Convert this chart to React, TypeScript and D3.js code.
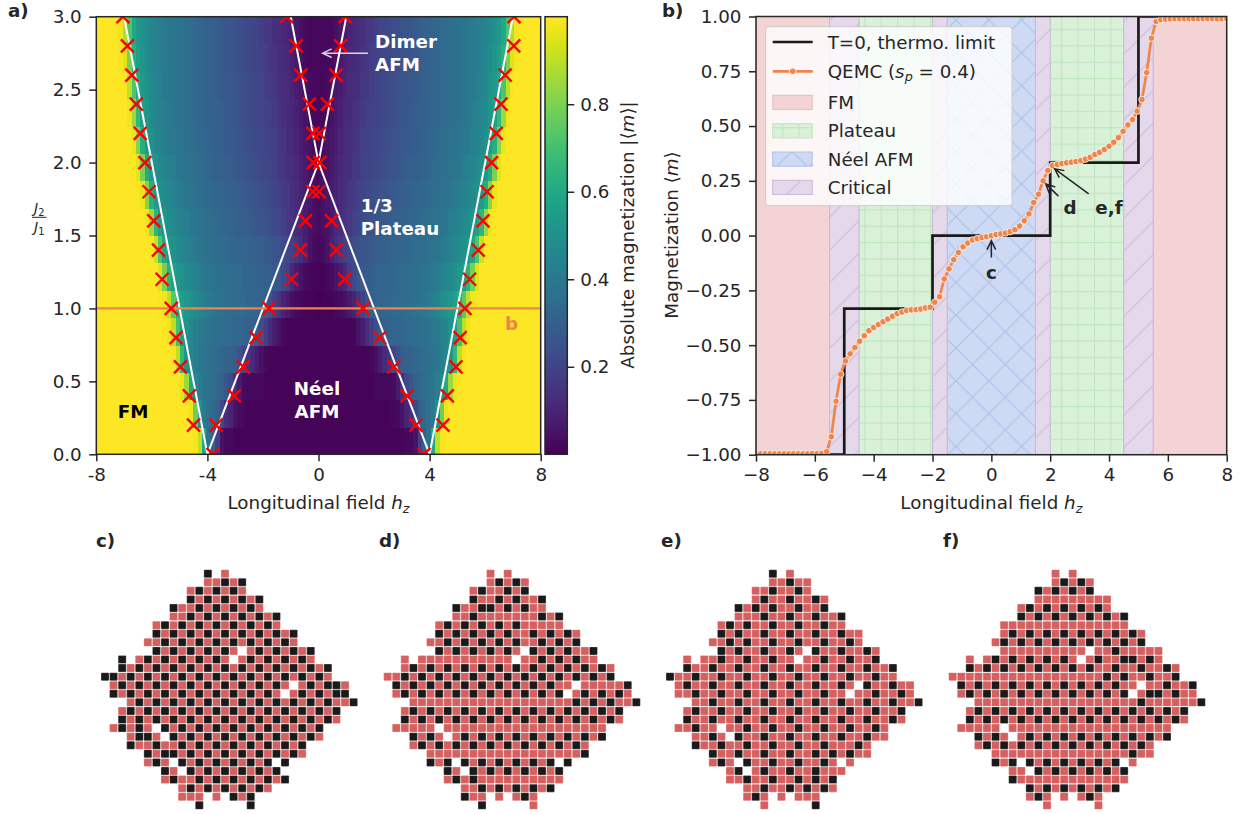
import { useEffect, useRef } from "react";
import * as d3 from "d3";

const FONT = "DejaVu Sans, sans-serif";
const INK = "#262626";
const ORANGE = "#ee854a";

// panel a: J2/J1 rows, |m| in percent for h = 0, 0.16, ... 8 (mirrored for h < 0)
const heatRows: number[][] = [
  [1,1,1,1,1,1,1,1,1,1,1,1,1,1,1,1,1,1,1,1,2,2,5,18,30,38,60,90,99,100,100,100,100,100,100,100,100,100,100,100,100,100,100,100,100,100,100,100,100,100,100],
  [1,1,1,1,1,1,1,1,1,1,1,1,1,1,1,1,1,2,3,5,10,14,22,30,34,37,41,50,78,97,100,100,100,100,100,100,100,100,100,100,100,100,100,100,100,100,100,100,100,100,100],
  [1,1,1,1,1,1,1,1,1,1,1,1,1,2,2,2,2,3,7,14,22,27,31,33,35,37,39,42,47,60,85,97,100,100,100,100,100,100,100,100,100,100,100,100,100,100,100,100,100,100,100],
  [1,1,1,1,1,1,1,1,1,1,1,1,2,4,8,12,15,20,25,29,31,32,33,34,35,37,38,40,42,46,52,66,90,99,100,100,100,100,100,100,100,100,100,100,100,100,100,100,100,100,100],
  [1,1,1,1,1,1,1,1,2,5,8,13,18,24,28,30,31,32,33,33,34,34,35,36,37,38,40,41,43,46,50,56,70,90,98,100,100,100,100,100,100,100,100,100,100,100,100,100,100,100,100],
  [0,1,1,1,2,3,4,7,10,15,19,25,30,32,32,33,33,34,34,34,35,36,37,38,39,41,43,45,48,51,53,57,62,74,90,98,99,100,100,100,100,100,100,100,100,100,100,100,100,100,100],
  [1,1,2,3,5,8,12,18,22,26,28,29,30,31,32,32,33,33,34,34,35,36,36,37,38,39,41,42,44,46,48,50,53,57,64,80,95,100,100,100,100,100,100,100,100,100,100,100,100,100,100],
  [2,3,5,9,13,16,19,21,23,25,26,27,28,29,30,30,31,32,32,33,33,34,35,35,36,37,38,39,41,42,44,46,48,50,53,59,72,92,100,100,100,100,100,100,100,100,100,100,100,100,100],
  [3,4,5,8,11,13,15,17,19,21,22,24,25,26,27,28,29,30,30,31,32,33,33,34,35,36,37,38,39,40,42,43,45,47,49,52,56,65,85,98,100,100,100,100,100,100,100,100,100,100,100],
  [3,4,6,8,10,12,14,16,17,19,20,22,23,24,25,26,27,28,29,30,30,31,32,33,33,34,35,36,37,38,39,41,42,44,46,48,51,55,62,82,97,100,100,100,100,100,100,100,100,100,100],
  [3,4,5,7,9,11,13,14,16,17,19,20,21,22,23,24,25,26,27,28,29,30,30,31,32,33,34,35,36,37,38,39,40,42,43,45,47,50,54,61,80,96,100,100,100,100,100,100,100,100,100],
  [2,3,5,6,8,10,12,13,15,16,18,19,20,21,22,23,24,25,26,27,28,28,29,30,31,32,33,34,35,36,37,38,39,40,41,43,45,47,50,54,62,82,97,100,100,100,100,100,100,100,100],
  [2,2,3,5,7,9,11,12,14,15,17,18,19,20,21,22,23,24,25,26,27,28,29,30,30,31,32,33,34,35,36,37,38,39,41,42,44,46,48,52,56,66,85,98,100,100,100,100,100,100,100],
  [2,2,3,4,6,8,10,12,13,14,16,17,18,20,21,22,23,24,25,26,27,27,28,29,30,31,32,33,34,35,36,37,38,39,40,41,43,45,47,50,54,60,72,90,99,100,100,100,100,100,100],
  [2,2,2,3,5,7,9,11,12,13,15,16,18,19,20,21,22,23,24,25,26,27,28,29,30,31,32,33,34,35,36,37,38,39,40,41,42,44,46,48,52,56,64,80,95,99,100,100,100,100,100],
  [2,2,2,3,4,6,8,10,11,13,14,16,17,18,20,21,22,23,24,25,26,27,28,29,30,31,32,33,34,35,36,37,38,39,40,41,42,43,45,47,50,54,60,72,88,98,100,100,100,100,100],
];

// red crosses: J2/J1 and the four fitted fields
const crossJ = [3.0,2.8,2.6,2.4,2.2,2.0,1.8,1.6,1.4,1.2,1.0,0.8,0.6,0.4,0.2];
const crossOuterLeft = [-7.04,-6.88,-6.72,-6.56,-6.42,-6.25,-6.1,-5.93,-5.76,-5.63,-5.3,-5.13,-4.97,-4.65,-4.5];
const crossOuterRight = [7.04,7.03,6.72,6.57,6.4,6.23,6.07,5.92,5.75,5.44,5.27,5.1,4.95,4.64,4.48];
const crossInnerLeft = [-1.15,-0.8,-0.64,-0.33,-0.2,-0.19,-0.2,-0.47,-0.65,-0.97,-1.78,-2.25,-2.71,-3.03,-3.69];
const crossInnerRight = [0.96,0.8,0.63,0.32,0.03,0.05,0.02,0.47,0.64,0.94,1.6,2.2,2.72,3.19,3.51];
const crossZeroField = [-3.8,3.8];

// white phase boundaries, [h, J]
const boundaries: [number, number][][] = [
  [[-4,0],[-7,3]],
  [[4,0],[7,3]],
  [[-4,0],[0,2],[1,3]],
  [[4,0],[0,2],[-1,3]],
];

// panel b
const thermoField = [-8,-5,-5,-2,-2,2,2,5,5,8];
const thermoMag = [-1,-1,-1/3,-1/3,0,0,1/3,1/3,1,1];
const qemcField = d3.range(101).map((k) => -8 + 0.16 * k);
const qemcMag = [
  -0.996,-0.996,-0.996,-0.996,-0.996,-0.996,-0.996,-0.996,-0.996,-0.996,-0.996,-0.996,-0.995,-0.995,-0.994,
  -0.986,-0.918,-0.756,-0.633,-0.572,-0.54,-0.511,-0.482,-0.457,-0.434,-0.419,-0.406,-0.393,-0.381,-0.368,-0.356,-0.349,-0.342,-0.339,-0.338,-0.335,-0.33,-0.327,-0.304,-0.279,
  -0.198,-0.152,-0.11,-0.077,-0.051,-0.034,-0.02,-0.014,-0.009,-0.005,
  0,0.005,0.008,0.012,0.018,0.027,0.044,0.068,0.099,0.151,0.189,0.25,0.297,0.32,0.324,0.329,0.332,0.335,0.338,0.342,0.349,0.357,0.37,0.38,0.393,0.408,0.426,0.447,0.476,0.505,0.53,0.568,0.621,0.744,0.901,0.977,
  0.985,0.988,0.989,0.99,0.99,0.99,0.99,0.99,0.99,0.99,0.99,0.99,0.99,0.99,0.99,
];

const fmBands: [number, number][] = [[-8,-5.5],[5.5,8]];
const plateauBands: [number, number][] = [[-4.5,-2],[2,4.5]];
const neelBands: [number, number][] = [[-1.5,1.5]];
const criticalBands: [number, number][] = [[-5.5,-4.5],[-2,-1.5],[1.5,2],[4.5,5.5]];

// panels c-f: K black, R red, . no site
const latticeC = [
  "............K.R",
  "............RRKRK",
  "..........RKRKRKR",
  "..........KRKRKRKRK",
  "........KRRKRKRKRKR",
  "........RRKRKRKRKRKRK",
  "......RKRKRKRKRKRKRKR",
  "......KRKRKRKRKRKRKRKRK",
  ".....RRKRKRKRKRKRKRKRKR",
  "......KRKRKRKRKR.RKRKRKRK",
  "..K.RKRKRKRKRKR.RKRKRKRKR",
  "..KRKRKRKRKRKRKRKRKRKRKRKRK",
  "KKRKRKRKRKRKRKRKRKRKRKRKRKR",
  ".RKRKRKRKRKRKRKRKRKRKR.RKRKKR",
  ".KRKRKRKRKRKRKRKRKRKR.RKRKRKK",
  "...RKRKRKRKRKRKRKRKRKRKRKRKRRK",
  "..RKRKRKRKRKRKRKRKRKRKRKRKRK",
  "..KRKRKRKRKRKRKRKRKRKRKRKRKR",
  ".RKRKR.KRKRKRKRKRKRKRKRKRK",
  "...RKKR.KRKRKRKRKRKRKRKRKR",
  "...KRRKRRKRKRKRKRKRKRKRK",
  ".....KRKKRKRKRKRKRKRKRKR",
  ".....RKR.KRKRKRKRKRK.K",
  ".......KR.KRKRKRKRKRK",
  ".......RKRRKRKRKRKRKRK",
  ".........RKRKRKRKRKR",
  ".........RRR.R.KRK",
  "...........K.....K",
];
const latticeD = [
  "............R.R",
  "............RKRKR",
  "..........RKRRKRK",
  "..........KRRKRKRRK",
  "........KRRKKRKRKRR",
  "........RRKRRRRRRRKRK",
  "......RKRKRKRKRKRRRRR",
  "......KRKRKRKRKRRKRKRKR",
  ".....RRKRKRKRKRKRRKRKRK",
  "......KRKRKRKRKR.KRKRKRRK",
  "..R.RRRRRRRRRRR.RRKRKRKRR",
  "..RKRKRKRKRKRKRKRKRKRKRKRKR",
  "RRKRKRKRKRKRKRKRKRKRKRKRKRK",
  ".KRKRKRKRKRKRKRKRKRKRR.RRRRRK",
  ".RKRKRKRKRKRKRKRKRKRK.RKRKRKR",
  "...RRRRRRRRRRRRRRRRRRRKRKRKRRK",
  "..RKRKRKRKRKRKRKRKRKRKRKRKRK",
  "..KRKRKRKRKRKRKRKRKRKRKRKRKR",
  ".RRRRR.RRRRRRRRRRRRRRRRRRR",
  "...KRKR.RKRKRKRKRKRKRKRKRK",
  "...RKRKRKRKRKRKRKRKRKRKR",
  ".....RRRRRRRRRRRRRRRRRRK",
  ".....KRK.KRKRKRKRKRK.K",
  ".......KR.KRKRKRKRKRK",
  ".......RKRKRRRRRRRRRR",
  ".........RRKRKRKRKRK",
  ".........KRR.R.RKR",
  "...........K.....R",
];
const latticeE = [
  "............K.R",
  "............RRKRR",
  "..........RRKRRKR",
  "..........RKRRKRRKR",
  "........KRKRKRRKRRK",
  "........RRRKRRKRRKRRK",
  "......RKRKRRKRRKRRKRR",
  "......KRKRRKRRKRRKRRKRR",
  ".....RRKRKRRKRRKRRKRRKR",
  "......KRKRRKRRKR.KRRKRRKR",
  "..R.RRKRRKRRKRR.RRKRRKRRK",
  "..KRRKRRKRRKRRKRRKRRKRRKRRK",
  "KRRKRRKRRKRRKRRKRRKRRKRRKRR",
  ".RKRRKRRKRRKRRKRRKRRKR.KRRKRR",
  ".RRKRRKRRKRRKRRKRRKRR.RRKRRKR",
  "...RRKRRKRRKRRKRRKRRKRRKRRKRRK",
  "..RKRRKRRKRRKRRKRRKRRKRRKRRK",
  "..KRRKRRKRRKRRKRRKRRKRRKRRKR",
  ".RRKRR.RRKRRKRRKRRKRRKRRKR",
  "...RRKR.KRRKRRKRRKRRKRRKRR",
  "...KRRKRRKRRKRRKRRKRRRKR",
  ".....KRRKRRKRRKRRKRKRKRR",
  ".....RKR.KRRKRRKRRKR.R",
  ".......RK.RKRRKRRKRRR",
  ".......RRKRRKRRKRKRK",
  ".........RRKRRKRKRKR",
  ".........RKR.R.RRR",
  "...........R.....K",
];
const latticeF = [
  "............R.R",
  "............RKRKR",
  "..........KRKRKRK",
  "..........RRRRRRRRR",
  "........RKRKRKRKRKR",
  "........KRKRKRKRKRKRK",
  "......RRRRRRRRRRRRRRR",
  "......RKRKRKRKRKRKRKRKR",
  ".....RKRKRKRKRKRKRKRKRK",
  "......RRRRRRRRRR.RRKRRRRR",
  "..R.RKRKRKRKRKR.RKRRKKRKR",
  "..KRKRKRKRKRKRKRKRRKRRKRRKR",
  "RRRRRRRRRRRRRRRRRRKRKRRKRRK",
  ".KRKRKRKRKRKRKRKRKRKRR.RRKRRK",
  ".RKRKRKRKRKRKRKRKRKRK.RKKRKRR",
  "...RRRRRRRRRRRRRRRRRRRKRRRRRRK",
  "..RKRKRKRKRKRKRKRKRKRKRKRKRK",
  "..KRKRKRKRKRKRKRKRKRKRKRKRKR",
  ".RRRRR.RRRRRRRRRRRRRRRRRRR",
  "...KRKR.RKRKRKRKRKRKRKRKRK",
  "...RKRKRKRKRKRKRKRKRKRKR",
  ".....RRRRRRRRRRRRRRRRKRR",
  ".....KRK.KRKRKRKRKRK.R",
  ".......RR.KRKRKRKRKRK",
  ".......KRRRRRRRRRRRRR",
  ".........KRKRKRKRKRK",
  ".........RKR.R.RKR",
  "...........R.....R",
];
const latticePanels = [
  { label: "c)", labelX: 96, left: 105, rows: latticeC },
  { label: "d)", labelX: 379, left: 387.7, rows: latticeD },
  { label: "e)", labelX: 661, left: 670, rows: latticeE },
  { label: "f)", labelX: 943, left: 952.7, rows: latticeF },
];

type Seg = { t: string; i?: boolean; sub?: boolean };
type G = d3.Selection<SVGGElement, unknown, null, undefined>;

function label(g: G, x: number, y: number, segs: Seg[], size: number, opts: { weight?: string; fill?: string; anchor?: string; rotate?: boolean } = {}) {
  const el = g.append("text")
    .attr("transform", opts.rotate ? `translate(${x},${y}) rotate(-90)` : `translate(${x},${y})`)
    .attr("font-family", FONT)
    .attr("font-size", size)
    .attr("font-weight", opts.weight ?? "normal")
    .attr("fill", opts.fill ?? INK)
    .attr("text-anchor", opts.anchor ?? "start");
  let wasSub = false;
  segs.forEach((s) => {
    const span = el.append("tspan").text(s.t);
    if (s.i) span.attr("font-style", "italic");
    if (s.sub) span.attr("font-size", size * 0.7).attr("dy", size * 0.2);
    else if (wasSub) span.attr("dy", -size * 0.2);
    wasSub = !!s.sub;
  });
}

function arrow(g: G, x1: number, y1: number, x2: number, y2: number, color: string, width: number, opacity = 1) {
  const a = Math.atan2(y2 - y1, x2 - x1);
  const head = 10;
  const path = d3.path();
  path.moveTo(x1, y1);
  path.lineTo(x2, y2);
  path.moveTo(x2 - head * Math.cos(a - 0.45), y2 - head * Math.sin(a - 0.45));
  path.lineTo(x2, y2);
  path.lineTo(x2 - head * Math.cos(a + 0.45), y2 - head * Math.sin(a + 0.45));
  g.append("path").attr("d", path.toString()).attr("fill", "none").attr("stroke", color).attr("stroke-width", width).attr("opacity", opacity);
}

function styleAxis(sel: G) {
  sel.selectAll(".domain").remove();
  sel.selectAll(".tick line").attr("stroke", INK).attr("stroke-width", 1.5);
  sel.selectAll(".tick text").attr("fill", INK).attr("font-size", 18.3).attr("font-family", FONT);
}

export default function App() {
  const svgRef = useRef<SVGSVGElement>(null);

  useEffect(() => {
    if (!svgRef.current) return;
    const svg = d3.select(svgRef.current);
    svg.selectAll("*").remove();
    const defs = svg.append("defs");
    const root = svg.append("g") as unknown as G;

    // ---- panel a ----
    const ax = { left: 96.3, right: 540.7, top: 16.7, bottom: 454.3 };
    const xA = d3.scaleLinear().domain([-8, 8]).range([ax.left, ax.right]);
    const yA = d3.scaleLinear().domain([0, 3]).range([ax.bottom, ax.top]);
    const colBand = d3.scaleBand<number>().domain(d3.range(101)).range([ax.left, ax.right]);
    const rowBand = d3.scaleBand<number>().domain(d3.range(heatRows.length)).range([ax.bottom, ax.top]);
    const color = d3.scaleSequential(d3.interpolateViridis).domain([0, 100]);

    defs.append("clipPath").attr("id", "clip-a").append("rect")
      .attr("x", ax.left).attr("y", ax.top).attr("width", ax.right - ax.left).attr("height", ax.bottom - ax.top);

    const a = root.append("g") as unknown as G;
    const heat = a.append("g").attr("shape-rendering", "crispEdges");
    heatRows.forEach((row, r) => {
      heat.selectAll(null)
        .data(d3.range(101))
        .join("rect")
        .attr("x", (c) => colBand(c) as number)
        .attr("y", rowBand(r) as number)
        .attr("width", colBand.bandwidth() + 0.6)
        .attr("height", rowBand.bandwidth() + 0.6)
        .attr("fill", (c) => color(row[Math.abs(c - 50)]));
    });

    const overlay = a.append("g").attr("clip-path", "url(#clip-a)");
    const boundaryLine = d3.line<[number, number]>().x((d) => xA(d[0])).y((d) => yA(d[1]));
    overlay.selectAll("path.boundary")
      .data(boundaries)
      .join("path")
      .attr("class", "boundary")
      .attr("d", (d) => boundaryLine(d))
      .attr("fill", "none")
      .attr("stroke", "white")
      .attr("stroke-width", 2);

    overlay.append("line")
      .attr("x1", xA(-8)).attr("x2", xA(8)).attr("y1", yA(1)).attr("y2", yA(1))
      .attr("stroke", ORANGE).attr("stroke-width", 2.2);

    const crosses: [number, number][] = [
      ...[crossOuterLeft, crossOuterRight, crossInnerLeft, crossInnerRight].flatMap((f) =>
        f.map((h, i) => [h, crossJ[i]] as [number, number])),
      ...crossZeroField.map((h) => [h, 0] as [number, number]),
    ];
    const crossSym = d3.symbol(d3.symbolTimes, 75);
    overlay.selectAll("path.cross")
      .data(crosses)
      .join("path")
      .attr("class", "cross")
      .attr("transform", (d) => `translate(${xA(d[0])},${yA(d[1])}) scale(1)`)
      .attr("d", "M-6.5,-6.5L6.5,6.5M-6.5,6.5L6.5,-6.5")
      .attr("data-sym", crossSym() as string)
      .attr("fill", "none")
      .attr("stroke", "#ff0000")
      .attr("stroke-width", 2.4);

    a.append("rect")
      .attr("x", ax.left).attr("y", ax.top).attr("width", ax.right - ax.left).attr("height", ax.bottom - ax.top)
      .attr("fill", "none").attr("stroke", INK).attr("stroke-width", 1.5);

    const axAx = a.append("g").attr("transform", `translate(0,${ax.bottom})`)
      .call(d3.axisBottom(xA).tickValues([-8, -4, 0, 4, 8]).tickFormat((d) => String(d)).tickSize(7).tickPadding(6.7)) as unknown as G;
    styleAxis(axAx);
    const ayAx = a.append("g").attr("transform", `translate(${ax.left},0)`)
      .call(d3.axisLeft(yA).tickValues([0, 0.5, 1, 1.5, 2, 2.5, 3]).tickFormat(d3.format(".1f")).tickSize(7).tickPadding(7.6)) as unknown as G;
    styleAxis(ayAx);

    label(a, xA(0), 509, [{ t: "Longitudinal field " }, { t: "h", i: true }, { t: "z", i: true, sub: true }], 18.3, { anchor: "middle" });
    label(a, 39.3, 212.7, [{ t: "J", i: true }, { t: "2", sub: true }], 14, { anchor: "middle" });
    a.append("line").attr("x1", 32).attr("x2", 46.5).attr("y1", 217.3).attr("y2", 217.3).attr("stroke", INK).attr("stroke-width", 1);
    label(a, 39.3, 232, [{ t: "J", i: true }, { t: "1", sub: true }], 14, { anchor: "middle" });

    const tag = { weight: "bold", fill: "white" };
    label(a, 375, 47.7, [{ t: "Dimer" }], 18.3, tag);
    label(a, 375, 70.7, [{ t: "AFM" }], 18.3, tag);
    label(a, 360.7, 212.3, [{ t: "1/3" }], 18.3, tag);
    label(a, 360.7, 235.3, [{ t: "Plateau" }], 18.3, tag);
    label(a, 317, 395, [{ t: "Néel" }], 18.3, { ...tag, anchor: "middle" });
    label(a, 317, 418, [{ t: "AFM" }], 18.3, { ...tag, anchor: "middle" });
    label(a, 117.7, 418, [{ t: "FM" }], 18.3, { weight: "bold", fill: "black" });
    label(a, 505, 330, [{ t: "b" }], 18.3, { weight: "bold", fill: ORANGE });
    arrow(a, xA(1.78), yA(2.75), xA(0.15), yA(2.75), "white", 1.5, 0.8);

    // colour bar
    const cb = { left: 545, right: 567.3 };
    const yC = d3.scaleLinear().domain([0, 1]).range([ax.bottom, ax.top]);
    const cbSteps = d3.range(0, 256);
    a.append("g").attr("shape-rendering", "crispEdges").selectAll("rect")
      .data(cbSteps)
      .join("rect")
      .attr("x", cb.left)
      .attr("width", cb.right - cb.left)
      .attr("y", (d) => yC((d + 1) / 256))
      .attr("height", (ax.bottom - ax.top) / 256 + 0.6)
      .attr("fill", (d) => d3.interpolateViridis(d / 255));
    a.append("rect")
      .attr("x", cb.left).attr("y", ax.top).attr("width", cb.right - cb.left).attr("height", ax.bottom - ax.top)
      .attr("fill", "none").attr("stroke", INK).attr("stroke-width", 1.5);
    const cbAx = a.append("g").attr("transform", `translate(${cb.right},0)`)
      .call(d3.axisRight(yC).tickValues([0.2, 0.4, 0.6, 0.8]).tickFormat(d3.format(".1f")).tickSize(7).tickPadding(6)) as unknown as G;
    styleAxis(cbAx);
    label(a, 634, 235, [{ t: "Absolute magnetization |⟨" }, { t: "m", i: true }, { t: "⟩|" }], 18.3, { anchor: "middle", rotate: true });

    // ---- panel b ----
    const bx = { left: 756, right: 1226.7, top: 16.5, bottom: 454.7 };
    const xB = d3.scaleLinear().domain([-8, 8]).range([bx.left, bx.right]);
    const yB = d3.scaleLinear().domain([-1, 1]).range([bx.bottom, bx.top]);
    const b = root.append("g") as unknown as G;

    defs.append("clipPath").attr("id", "clip-b").append("rect")
      .attr("x", bx.left).attr("y", bx.top).attr("width", bx.right - bx.left).attr("height", bx.bottom - bx.top);

    const plateauHatch = defs.append("pattern").attr("id", "hatch-plateau").attr("patternUnits", "userSpaceOnUse")
      .attr("width", 16.4).attr("height", 16.4).attr("patternTransform", "translate(864.3,324)");
    plateauHatch.append("path").attr("d", "M0.5,0V16.4M0,0.5H16.4").attr("stroke", "#bde6bd").attr("stroke-width", 1.2).attr("fill", "none");
    const neelHatch = defs.append("pattern").attr("id", "hatch-neel").attr("patternUnits", "userSpaceOnUse")
      .attr("width", 32.8).attr("height", 32.8).attr("patternTransform", "translate(956,20)");
    neelHatch.append("path").attr("d", "M0,0L32.8,32.8M0,32.8L32.8,0").attr("stroke", "#adc2ea").attr("stroke-width", 1.2).attr("fill", "none");
    const criticalHatch = defs.append("pattern").attr("id", "hatch-critical").attr("patternUnits", "userSpaceOnUse")
      .attr("width", 32.8).attr("height", 32.8).attr("patternTransform", "translate(830,20)");
    criticalHatch.append("path").attr("d", "M0,32.8L32.8,0").attr("stroke", "#cdbcdc").attr("stroke-width", 1.2).attr("fill", "none");

    const bandKinds = [
      { bands: fmBands, fill: "#f3d3d3", edge: "#e9bcc0", hatch: "" },
      { bands: plateauBands, fill: "#daf1d9", edge: "#bde6bd", hatch: "hatch-plateau" },
      { bands: neelBands, fill: "#cedaf3", edge: "#adc0e6", hatch: "hatch-neel" },
      { bands: criticalBands, fill: "#e4d8ea", edge: "#c9b8d8", hatch: "hatch-critical" },
    ];
    bandKinds.forEach((k) => {
      const sel = b.append("g").selectAll("rect").data(k.bands).join("rect")
        .attr("x", (d) => xB(d[0])).attr("width", (d) => xB(d[1]) - xB(d[0]))
        .attr("y", bx.top).attr("height", bx.bottom - bx.top)
        .attr("fill", k.fill);
      if (k.hatch) {
        b.append("g").selectAll("rect").data(k.bands).join("rect")
          .attr("x", (d) => xB(d[0])).attr("width", (d) => xB(d[1]) - xB(d[0]))
          .attr("y", bx.top).attr("height", bx.bottom - bx.top)
          .attr("fill", `url(#${k.hatch})`);
      }
      b.append("g").selectAll("rect").data(k.bands).join("rect")
        .attr("x", (d) => xB(d[0])).attr("width", (d) => xB(d[1]) - xB(d[0]))
        .attr("y", bx.top).attr("height", bx.bottom - bx.top)
        .attr("fill", "none").attr("stroke", k.edge).attr("stroke-width", 1);
      void sel;
    });

    const plot = b.append("g").attr("clip-path", "url(#clip-b)");
    const thermoLine = d3.line<number>().x((h) => xB(h)).y((_, i) => yB(thermoMag[i]));
    plot.append("path").attr("d", thermoLine(thermoField))
      .attr("fill", "none").attr("stroke", "#1a1a1a").attr("stroke-width", 2.7);
    const qemcLine = d3.line<number>().x((h) => xB(h)).y((_, i) => yB(qemcMag[i]));
    plot.append("path").attr("d", qemcLine(qemcField))
      .attr("fill", "none").attr("stroke", ORANGE).attr("stroke-width", 2.7);
    plot.selectAll("circle").data(qemcField).join("circle")
      .attr("cx", (h) => xB(h)).attr("cy", (_, i) => yB(qemcMag[i]))
      .attr("r", 3.3).attr("fill", ORANGE).attr("stroke", "white").attr("stroke-width", 0.8);

    b.append("rect")
      .attr("x", bx.left).attr("y", bx.top).attr("width", bx.right - bx.left).attr("height", bx.bottom - bx.top)
      .attr("fill", "none").attr("stroke", INK).attr("stroke-width", 1.5);

    const bxAx = b.append("g").attr("transform", `translate(0,${bx.bottom})`)
      .call(d3.axisBottom(xB).tickValues([-8, -6, -4, -2, 0, 2, 4, 6, 8]).tickFormat(d3.format("d")).tickSize(7).tickPadding(6.7)) as unknown as G;
    styleAxis(bxAx);
    const byAx = b.append("g").attr("transform", `translate(${bx.left},0)`)
      .call(d3.axisLeft(yB).tickValues(d3.range(-1, 1.01, 0.25)).tickFormat(d3.format(".2f")).tickSize(7).tickPadding(7.6)) as unknown as G;
    styleAxis(byAx);

    label(b, xB(0), 509, [{ t: "Longitudinal field " }, { t: "h", i: true }, { t: "z", i: true, sub: true }], 18.3, { anchor: "middle" });
    label(b, 678, 235, [{ t: "Magnetization ⟨" }, { t: "m", i: true }, { t: "⟩" }], 18.3, { anchor: "middle", rotate: true });

    // annotations
    label(b, xB(0), 279, [{ t: "c" }], 18.3, { weight: "bold", anchor: "middle" });
    label(b, 1070, 214, [{ t: "d" }], 18.3, { weight: "bold", anchor: "middle" });
    label(b, 1109, 214, [{ t: "e,f" }], 18.3, { weight: "bold", anchor: "middle" });
    arrow(b, xB(0), yB(-0.1), xB(0), yB(-0.023), INK, 1.5);
    arrow(b, xB(2.28), yB(0.18), xB(1.85), yB(0.236), INK, 1.5);
    arrow(b, xB(3.31), yB(0.19), xB(2.15), yB(0.305), INK, 1.5);

    // legend
    const legend = b.append("g");
    legend.append("rect").attr("x", 765.7).attr("y", 26.7).attr("width", 246.3).attr("height", 179).attr("rx", 3)
      .attr("fill", "white").attr("fill-opacity", 0.8).attr("stroke", "#cccccc").attr("stroke-width", 1);
    legend.append("line").attr("x1", 772.7).attr("x2", 812.7).attr("y1", 42).attr("y2", 42).attr("stroke", "#1a1a1a").attr("stroke-width", 2.7);
    legend.append("line").attr("x1", 772.7).attr("x2", 812.7).attr("y1", 71.3).attr("y2", 71.3).attr("stroke", ORANGE).attr("stroke-width", 2.7);
    legend.append("circle").attr("cx", 792.7).attr("cy", 71.3).attr("r", 3.3).attr("fill", ORANGE).attr("stroke", "white").attr("stroke-width", 0.8);
    label(legend as unknown as G, 827.7, 48.5, [{ t: "T=0, thermo. limit" }], 18.3);
    label(legend as unknown as G, 827.7, 77.8, [{ t: "QEMC (" }, { t: "s", i: true }, { t: "p", i: true, sub: true }, { t: " = 0.4)" }], 18.3);
    const legendSwatches = [
      { name: "FM", y: 95.3, fill: "#f3d3d3", edge: "#e9bcc0", hatch: "" },
      { name: "Plateau", y: 123.7, fill: "#daf1d9", edge: "#bde6bd", hatch: "hatch-plateau" },
      { name: "Néel AFM", y: 152, fill: "#cedaf3", edge: "#adc0e6", hatch: "hatch-neel" },
      { name: "Critical", y: 180.3, fill: "#e4d8ea", edge: "#c9b8d8", hatch: "hatch-critical" },
    ];
    legendSwatches.forEach((s) => {
      legend.append("rect").attr("x", 772.7).attr("y", s.y).attr("width", 39.5).attr("height", 14.2)
        .attr("fill", s.fill).attr("stroke", s.edge);
      if (s.hatch) {
        legend.append("rect").attr("x", 772.7).attr("y", s.y).attr("width", 39.5).attr("height", 14.2)
          .attr("fill", `url(#${s.hatch})`);
      }
      label(legend as unknown as G, 827.7, s.y + 13.5, [{ t: s.name }], 18.3);
    });

    // ---- lattice panels ----
    const yL = d3.scaleLinear().domain([0, 27]).range([573.7, 805.3]);
    const cell = 8;
    latticePanels.forEach((p) => {
      const xL = d3.scaleLinear().domain([0, 29]).range([p.left, p.left + 248.6]);
      const sites = p.rows.flatMap((row, r) =>
        row.split("").map((c, i) => ({ c, i, r })).filter((s) => s.c !== "."));
      const g = root.append("g");
      g.selectAll("rect")
        .data([...sites.filter((s) => s.c === "R"), ...sites.filter((s) => s.c === "K")])
        .join("rect")
        .attr("x", (s) => xL(s.i) - cell / 2)
        .attr("y", (s) => yL(s.r) - cell / 2)
        .attr("width", cell)
        .attr("height", cell)
        .attr("rx", 0.8)
        .attr("fill", (s) => (s.c === "K" ? "#1a1a1a" : "#d65f5f"))
        .attr("stroke", "white")
        .attr("stroke-opacity", 0.5)
        .attr("stroke-width", 0.5);
      label(root, p.labelX, 547, [{ t: p.label }], 18.3, { weight: "bold" });
    });

    label(root, 8, 17, [{ t: "a)" }], 18.3, { weight: "bold" });
    label(root, 662, 17, [{ t: "b)" }], 18.3, { weight: "bold" });
  }, []);

  return (
    <div style={{ position: "fixed", left: 0, top: 0, background: "white" }}>
      <svg ref={svgRef} width={1243} height={814} style={{ display: "block" }} />
    </div>
  );
}
